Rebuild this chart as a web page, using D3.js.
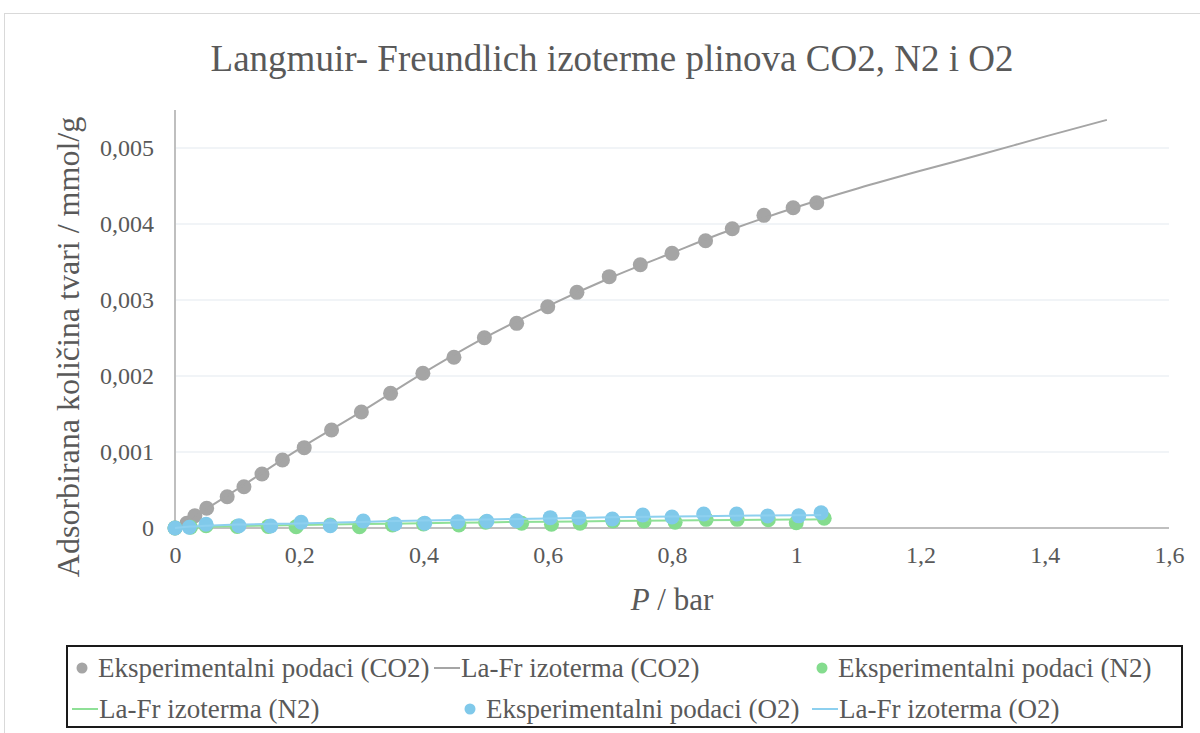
<!DOCTYPE html>
<html lang="hr">
<head>
    <meta charset="UTF-8">
    <title>Langmuir- Freundlich izoterme</title>
    <style>
        body { margin: 0; background: #fff; }
        svg text { font-family: "Liberation Serif", "Times New Roman", Tinos, "DejaVu Serif", serif; }
    </style>
</head>
<body>
  <svg id="chart"></svg>
  <script src="https://d3js.org/d3.v7.min.js"></script>
  <script>
  // data (P / bar, q / mmol/g)
  const pCO2 = [0, 0.019, 0.032, 0.051, 0.084, 0.111, 0.140, 0.173, 0.208, 0.252, 0.300, 0.347, 0.399,
                0.449, 0.498, 0.550, 0.600, 0.647, 0.699, 0.749, 0.800, 0.854, 0.897, 0.948, 0.995, 1.033];
  const qCO2 = [0, 0.000062, 0.000162, 0.000259, 0.000412, 0.000543, 0.000711, 0.000895, 0.001057, 0.001289,
                0.001526, 0.001772, 0.002036, 0.002246, 0.002504, 0.002693, 0.002912, 0.003101, 0.003307,
                0.003464, 0.003614, 0.00378, 0.003938, 0.004114, 0.004214, 0.00428];
  const pCO2Fit = [0, 0.05, 0.1, 0.2, 0.3, 0.4, 0.5, 0.6, 0.7, 0.8, 0.9, 1.0, 1.1, 1.2, 1.3, 1.4, 1.5];
  const qCO2Fit = [0, 0.00025, 0.00051, 0.00104, 0.00153, 0.00204, 0.00251, 0.00292, 0.00329, 0.00362,
                   0.00394, 0.00422, 0.00447, 0.0047, 0.00492, 0.00515, 0.00537];

  const pN2 = [0, 0.025, 0.05, 0.1, 0.15, 0.195, 0.25, 0.297, 0.35, 0.4, 0.457, 0.5, 0.558, 0.606,
               0.652, 0.705, 0.755, 0.805, 0.855, 0.905, 0.955, 1.0, 1.045];
  const qN2 = [0, 0.00001, 0.00003, 0.00002, 0.00002, 0.000017, 0.00004, 0.000017, 0.00004, 0.000053,
               0.00004, 0.000075, 0.000062, 0.000049, 0.000062, 0.000092, 0.000092, 0.000075, 0.000114,
               0.000114, 0.00011, 0.00007, 0.000128];
  const pN2Fit = [0, 0.05, 0.1, 0.2, 0.3, 0.4, 0.5, 0.6, 0.7, 0.8, 0.9, 1.0, 1.045];
  const qN2Fit = [0, 0.000015, 0.000025, 0.00004, 0.000052, 0.000063, 0.000074, 0.000083, 0.000091,
                  0.000099, 0.000106, 0.000112, 0.000115];

  const pO2 = [0, 0.023, 0.05, 0.103, 0.154, 0.203, 0.25, 0.303, 0.354, 0.402, 0.455, 0.502, 0.55, 0.604,
               0.65, 0.704, 0.753, 0.8, 0.851, 0.904, 0.954, 1.004, 1.04];
  const qO2 = [0, 0.00001, 0.00005, 0.00003, 0.000026, 0.000075, 0.00003, 0.000092, 0.000053, 0.000062,
               0.000083, 0.000088, 0.000096, 0.000136, 0.000136, 0.000118, 0.000171, 0.000145, 0.000184,
               0.000184, 0.000158, 0.00016, 0.000201];
  const pO2Fit = [0, 0.025, 0.05, 0.1, 0.2, 0.3, 0.4, 0.5, 0.6, 0.7, 0.8, 0.9, 1.0, 1.04];
  const qO2Fit = [0, 0.00002, 0.00003, 0.000045, 0.00006, 0.00008, 0.0001, 0.000112, 0.000125, 0.00014,
                  0.00015, 0.00016, 0.000168, 0.00017];

  const xTicks = [0, 0.2, 0.4, 0.6, 0.8, 1, 1.2, 1.4, 1.6];
  const xTickLabels = ["0", "0,2", "0,4", "0,6", "0,8", "1", "1,2", "1,4", "1,6"];
  const yTicks = [0, 0.001, 0.002, 0.003, 0.004, 0.005];
  const yTickLabels = ["0", "0,001", "0,002", "0,003", "0,004", "0,005"];

  const width = 1200, height = 733;
  const grey = "#a5a5a5", green = "#84dc8e", blue = "#80c9ea";
  const textCol = "#595959";
  const serif = "'Liberation Serif', 'Times New Roman', Tinos, 'DejaVu Serif', serif";

  var svg = d3.select("svg")
      .attr("width", width)
      .attr("height", height);

  // chart frame (runs off the right/bottom edge)
  svg.append("rect")
      .attr("x", 4.5).attr("y", 13.5)
      .attr("width", 1210).attr("height", 740)
      .attr("fill", "#fff")
      .attr("stroke", "#d9d9d9");

  const x = d3.scaleLinear().domain([0, 1.6]).range([175, 1169]);
  const y = d3.scaleLinear().domain([0, 0.0055]).range([528, 110]);

  // gridlines
  svg.append("g")
      .selectAll("line")
      .data(yTicks.slice(1))
      .join("line")
        .attr("x1", x(0)).attr("x2", x(1.6))
        .attr("y1", d => y(d)).attr("y2", d => y(d))
        .attr("stroke", "#edf1f4")
        .attr("stroke-width", 1.5);

  // axes
  const xAxis = svg.append("g")
      .attr("transform", `translate(0,${y(0)})`)
      .call(d3.axisBottom(x).tickValues(xTicks).tickSize(0).tickPadding(18)
            .tickFormat((d, i) => xTickLabels[i]));
  const yAxis = svg.append("g")
      .attr("transform", `translate(${x(0)},0)`)
      .call(d3.axisLeft(y).tickValues(yTicks).tickSize(0).tickPadding(21)
            .tickFormat((d, i) => yTickLabels[i]));
  [xAxis, yAxis].forEach(a => {
    a.attr("font-family", serif).attr("font-size", 24);
    a.select(".domain").remove();
    a.selectAll("text").attr("fill", textCol);
  });
  svg.append("line")
      .attr("x1", x(0)).attr("x2", x(0))
      .attr("y1", y(0.0055)).attr("y2", y(0))
      .attr("stroke", "#bfbfbf").attr("stroke-width", 2);
  svg.append("line")
      .attr("x1", x(0) - 1).attr("x2", x(1.6))
      .attr("y1", y(0)).attr("y2", y(0))
      .attr("stroke", "#bfbfbf").attr("stroke-width", 2);

  // series
  const zip = (a, b) => a.map((v, i) => [v, b[i]]);
  const line = d3.line()
      .x(d => x(d[0]))
      .y(d => y(d[1]))
      .curve(d3.curveMonotoneX);

  const series = [
    {pts: zip(pCO2, qCO2), fit: zip(pCO2Fit, qCO2Fit), color: grey, lineColor: grey},
    {pts: zip(pN2, qN2), fit: zip(pN2Fit, qN2Fit), color: green, lineColor: "#8fe097"},
    {pts: zip(pO2, qO2), fit: zip(pO2Fit, qO2Fit), color: blue, lineColor: "#8dd0ef"}
  ];

  series.forEach(s => {
    svg.append("g")
      .selectAll("circle")
      .data(s.pts)
      .join("circle")
        .attr("cx", d => x(d[0]))
        .attr("cy", d => y(d[1]))
        .attr("r", 7.5)
        .attr("fill", s.color);
    svg.append("path")
      .datum(s.fit)
      .attr("d", line)
      .attr("fill", "none")
      .attr("stroke", s.lineColor)
      .attr("stroke-width", 2);
  });

  // title + axis titles
  svg.append("text")
      .attr("x", 612).attr("y", 71)
      .attr("text-anchor", "middle")
      .attr("fill", textCol)
      .attr("font-family", serif)
      .attr("font-size", 37)
      .text("Langmuir- Freundlich izoterme plinova CO2, N2 i O2");

  const xt = svg.append("text")
      .attr("x", x(0.8)).attr("y", 610)
      .attr("text-anchor", "middle")
      .attr("fill", textCol)
      .attr("font-family", serif)
      .attr("font-size", 31);
  xt.append("tspan").attr("font-style", "italic").text("P");
  xt.append("tspan").text(" / bar");

  svg.append("text")
      .attr("transform", "translate(79,347) rotate(-90)")
      .attr("text-anchor", "middle")
      .attr("fill", textCol)
      .attr("font-family", serif)
      .attr("font-size", 32)
      .text("Adsorbirana količina tvari / mmol/g");

  // legend
  svg.append("rect")
      .attr("x", 67).attr("y", 646)
      .attr("width", 1115).attr("height", 81)
      .attr("fill", "#fff")
      .attr("stroke", "#1a1a1a")
      .attr("stroke-width", 2);

  const legendItems = [
    {kind: "dot",  color: grey,      label: "Eksperimentalni podaci (CO2)", x: 82,  row: 0},
    {kind: "line", color: grey,      label: "La-Fr izoterma (CO2)",         x: 434, row: 0},
    {kind: "dot",  color: green,     label: "Eksperimentalni podaci (N2)",  x: 822, row: 0},
    {kind: "line", color: "#8fe097", label: "La-Fr izoterma (N2)",          x: 72,  row: 1},
    {kind: "dot",  color: blue,      label: "Eksperimentalni podaci (O2)",  x: 470, row: 1},
    {kind: "line", color: "#8dd0ef", label: "La-Fr izoterma (O2)",          x: 812, row: 1}
  ];
  const rowY = [668, 709];

  legendItems.forEach(d => {
    const cy = rowY[d.row];
    let tx;
    if (d.kind === "dot") {
      svg.append("circle").attr("cx", d.x).attr("cy", cy).attr("r", 5.5).attr("fill", d.color);
      tx = d.x + 16;
    } else {
      svg.append("line")
        .attr("x1", d.x).attr("x2", d.x + 26)
        .attr("y1", cy).attr("y2", cy)
        .attr("stroke", d.color).attr("stroke-width", 2);
      tx = d.x + 27;
    }
    svg.append("text")
      .attr("x", tx).attr("y", cy + 9)
      .attr("fill", textCol)
      .attr("font-family", serif)
      .attr("font-size", 27)
      .text(d.label);
  });
  </script>
</body>
</html>
